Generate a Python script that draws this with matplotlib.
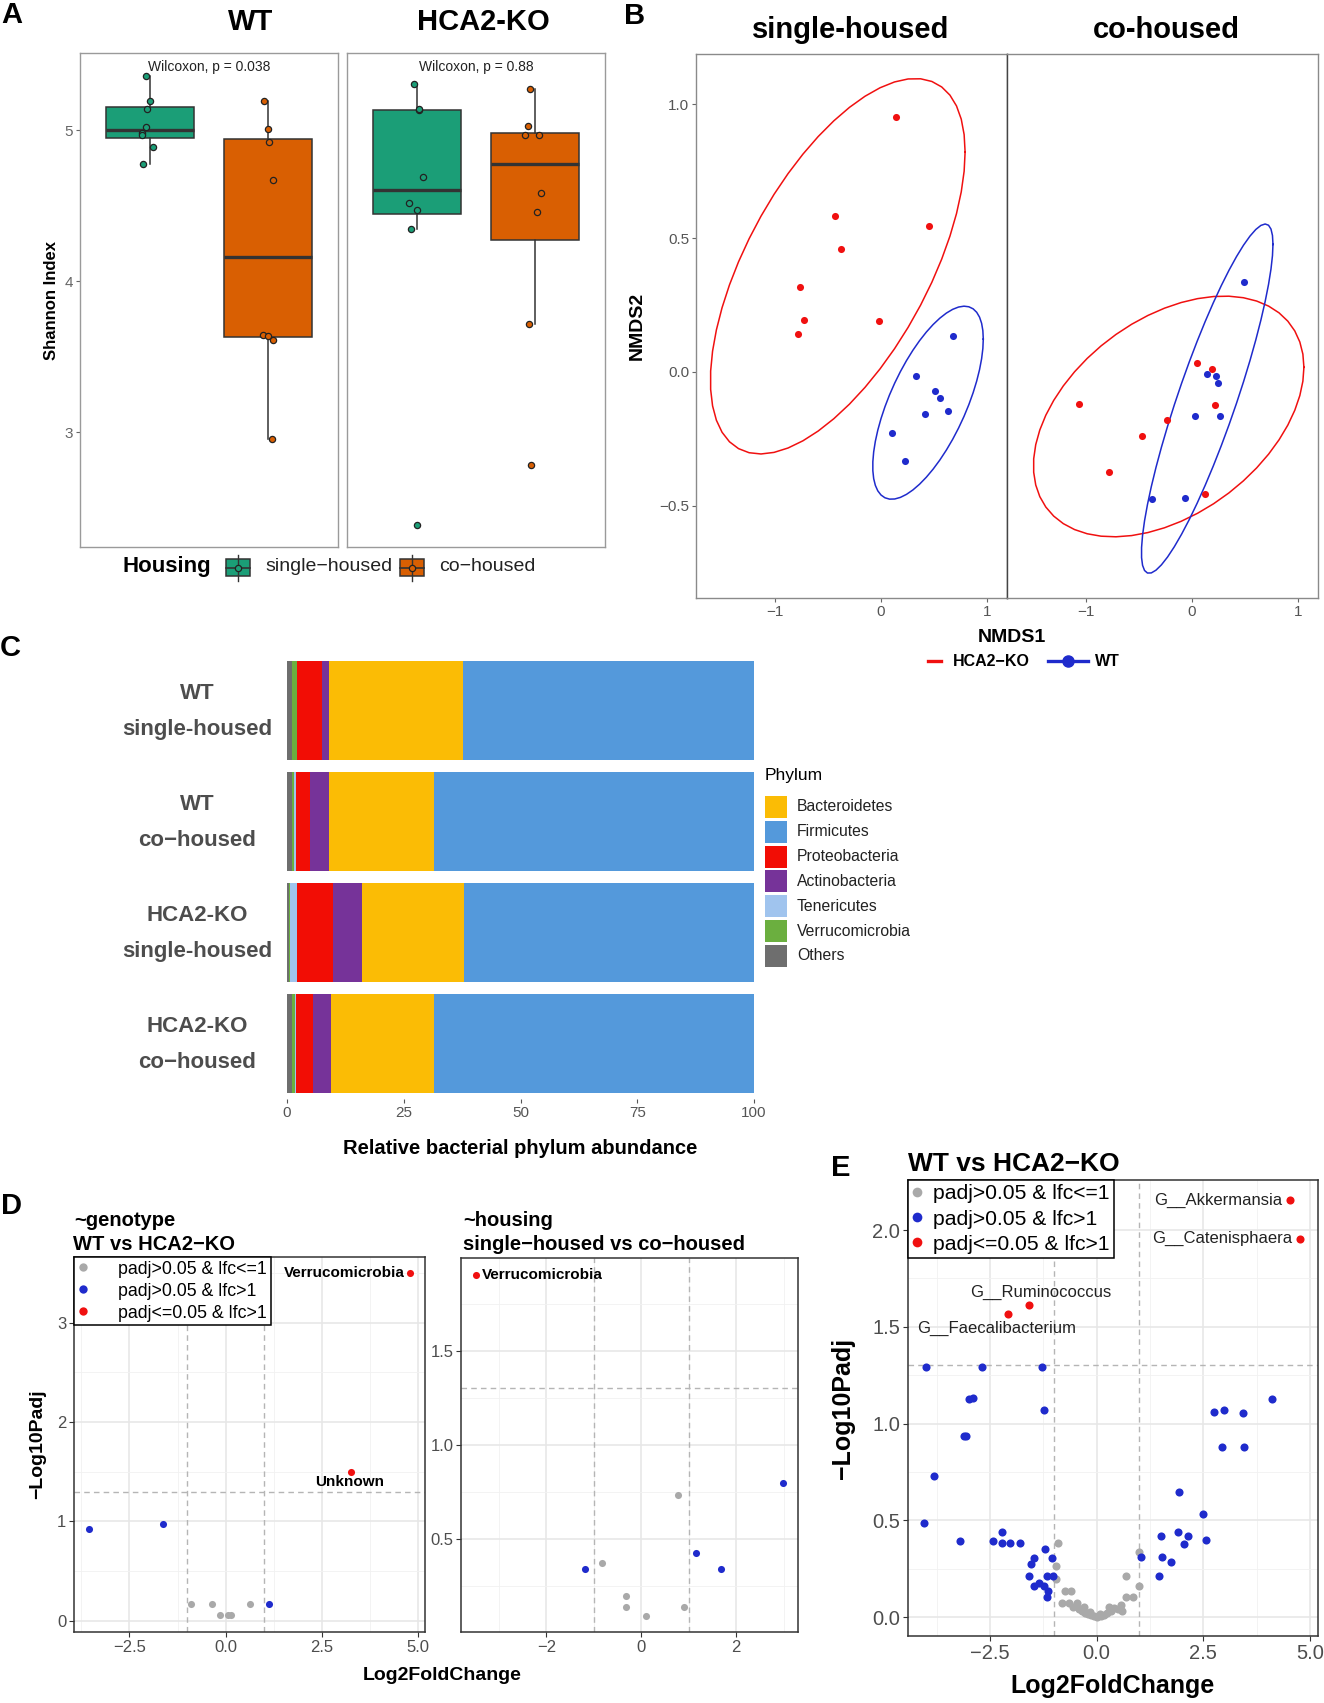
import numpy as np
import matplotlib
matplotlib.use("Agg")
import matplotlib.pyplot as plt
from matplotlib.patches import Rectangle
from matplotlib.lines import Line2D
from matplotlib.transforms import blended_transform_factory

plt.rcParams["font.family"] = ["Liberation Sans", "DejaVu Sans"]

# ---------------- A : Shannon index
shannon_wt_single = [5.36, 5.19, 5.14, 5.017, 4.98, 4.965, 4.887, 4.776]
shannon_wt_co = [5.19, 5.009, 4.922, 4.67, 3.645, 3.636, 3.61, 2.953]
shannon_ko_single = [5.302, 5.132, 5.14, 4.691, 4.519, 4.474, 4.347, 2.387]
shannon_ko_co = [5.274, 5.024, 4.965, 4.965, 4.583, 4.46, 3.719, 2.781]
# horizontal jitter
jit_wt_single = [-0.04, 0.0, -0.03, -0.04, -0.07, -0.075, 0.02, -0.06]
jit_wt_co = [-0.03, 0.0, 0.01, 0.05, -0.04, 0.0, 0.05, 0.04]
jit_ko_single = [-0.03, 0.01, 0.01, 0.05, -0.07, 0.0, -0.05, 0.0]
jit_ko_co = [-0.04, -0.06, -0.08, 0.04, 0.05, 0.02, -0.05, -0.03]
genotype_titles = ["WT", "HCA2-KO"]
wilcox_p = ["0.038", "0.88"]
housing_lbl = ["single−housed", "co−housed"]
housing_col = ["#1B9E77", "#D95F02"]

# ---------------- B : NMDS
ko_single_x = [0.143, -0.43, 0.452, -0.376, -0.76, -0.72, -0.783, -0.018]
ko_single_y = [0.953, 0.584, 0.545, 0.46, 0.316, 0.194, 0.143, 0.19]
wt_single_x = [0.68, 0.336, 0.515, 0.555, 0.416, 0.635, 0.107, 0.233]
wt_single_y = [0.135, -0.014, -0.07, -0.097, -0.156, -0.147, -0.229, -0.332]
ko_co_x = [-1.063, -0.781, -0.469, -0.228, 0.054, 0.196, 0.219, 0.129]
ko_co_y = [-0.118, -0.373, -0.24, -0.179, 0.032, 0.012, -0.123, -0.455]
wt_co_x = [0.491, 0.143, 0.232, 0.246, 0.027, 0.263, -0.371, -0.067]
wt_co_y = [0.337, -0.006, -0.017, -0.041, -0.165, -0.164, -0.475, -0.469]
nmds_titles = ["single-housed", "co-housed"]

# ---------------- C : phylum abundance (%)
groups = ["WT\nsingle-housed", "WT\nco−housed", "HCA2-KO\nsingle-housed", "HCA2-KO\nco−housed"]
ab_others = [1.1, 1.1, 0.5, 1.0]
ab_verruco = [1.0, 0.3, 0.1, 0.7]
ab_teneri = [0.1, 0.5, 1.6, 0.2]
ab_proteo = [5.4, 3.1, 7.6, 3.6]
ab_actino = [1.5, 4.1, 6.3, 4.0]
ab_bactero = [28.5, 22.4, 21.8, 22.0]
ab_firmi = [62.4, 68.5, 62.1, 68.5]
phyla_stack = ["Others", "Verrucomicrobia", "Tenericutes", "Proteobacteria",
               "Actinobacteria", "Bacteroidetes", "Firmicutes"]
phyla_legend = ["Bacteroidetes", "Firmicutes", "Proteobacteria", "Actinobacteria",
                "Tenericutes", "Verrucomicrobia", "Others"]
phyla_col = {"Bacteroidetes": "#FBBC05", "Firmicutes": "#5499DB", "Proteobacteria": "#F20D05",
             "Actinobacteria": "#763399", "Tenericutes": "#A0C4EE",
             "Verrucomicrobia": "#6BAF3F", "Others": "#6E6E6E"}

# ---------------- D : DESeq2 phylum level
dg_gray_lfc = [-0.90, -0.355, 0.624, -0.139, 0.052, 0.139]
dg_gray_p = [0.168, 0.168, 0.168, 0.056, 0.056, 0.056]
dg_blue_lfc = [-3.54, -1.63, 1.127]
dg_blue_p = [0.924, 0.976, 0.168]
dg_red_lfc = [4.79, 3.27]
dg_red_p = [3.5, 1.496]
dg_red_names = ["Verrucomicrobia", "Unknown"]

dh_gray_lfc = [-0.828, -0.316, -0.316, 0.105, 0.772, 0.891]
dh_gray_p = [0.374, 0.197, 0.138, 0.092, 0.734, 0.138]
dh_blue_lfc = [-1.186, 1.144, 1.67, 2.98]
dh_blue_p = [0.342, 0.426, 0.344, 0.799]
dh_red_lfc = [-3.49]
dh_red_p = [1.904]
dh_red_names = ["Verrucomicrobia"]

# ---------------- E : genus level
e_gray_lfc = [-0.90, -0.94, -0.94, -0.74, -0.59, -0.80, -0.64, -0.47, -0.55, -0.42, -0.35,
              -0.28, -0.20, -0.12, -0.05, 0.02, 0.10, 0.17, 0.25, 0.33, 0.42, 0.50, 0.57,
              0.60, 0.70, 0.85, 0.70, 0.99, 0.99, -0.30, 0.30, -0.15, 0.08]
e_gray_p = [0.383, 0.266, 0.195, 0.134, 0.134, 0.072, 0.072, 0.072, 0.050, 0.040, 0.030,
            0.020, 0.015, 0.010, 0.005, 0.000, 0.005, 0.012, 0.020, 0.030, 0.045, 0.040, 0.060,
            0.030, 0.104, 0.104, 0.210, 0.162, 0.336, 0.050, 0.050, 0.025, 0.015]
e_blue_lfc = [-4.006, -2.694, -1.288, -2.985, -2.906, -3.119, -3.07, -1.241, -3.81, -4.045,
              -3.197, -2.43, -2.21, -2.22, -2.02, -1.80,
              -1.22, -1.47, -1.05, -1.54, -1.58, -1.17, -1.01, -1.46, -1.35, -1.24, -1.15, -1.16,
              1.04, 1.46, 1.52, 1.53, 1.75, 1.91, 1.93, 2.04, 2.15, 2.50, 2.56, 2.75, 2.985,
              2.946, 3.44, 3.464, 4.116]
e_blue_p = [1.294, 1.294, 1.294, 1.129, 1.133, 0.935, 0.935, 1.069, 0.727, 0.487,
            0.395, 0.395, 0.44, 0.385, 0.385, 0.385,
            0.35, 0.305, 0.305, 0.275, 0.213, 0.213, 0.213, 0.158, 0.175, 0.158, 0.133, 0.105,
            0.31, 0.213, 0.421, 0.31, 0.285, 0.442, 0.648, 0.378, 0.421, 0.532, 0.397, 1.058,
            1.069, 0.878, 1.056, 0.878, 1.126]
e_red_lfc = [4.525, 4.776, -1.595, -2.066]
e_red_p = [2.155, 1.955, 1.611, 1.564]
e_red_names = ["G__Akkermansia", "G__Catenisphaera", "G__Ruminococcus", "G__Faecalibacterium"]

class_labels = ["padj>0.05 & lfc<=1", "padj>0.05 & lfc>1", "padj<=0.05 & lfc>1"]
c_gray, c_blue, c_red = "#A9A9A9", "#1F2BCC", "#F01010"

W, H = 1324, 1703
fig = plt.figure(figsize=(W / 100, H / 100), dpi=100)
ov = fig.add_axes([0, 0, 1, 1])
ov.set_xlim(0, W)
ov.set_ylim(H, 0)
ov.axis("off")


def px_axes(x0, y0, x1, y1):
    return fig.add_axes([x0 / W, 1 - y1 / H, (x1 - x0) / W, (y1 - y0) / H])


def px_text(x, y, s, **kw):
    fig.text(x / W, 1 - y / H, s, **kw)


for lab, (x, y) in zip("ABCDE", [(1, 15), (624, 16), (0, 648), (1, 1206), (831, 1168)]):
    px_text(x, y, lab, fontsize=21, fontweight="bold", va="center", ha="left")

# ================= A
a_axes = [px_axes(80, 53, 338, 547), px_axes(347, 53, 605, 547)]
a_data = [[shannon_wt_single, shannon_wt_co], [shannon_ko_single, shannon_ko_co]]
a_jit = [[jit_wt_single, jit_wt_co], [jit_ko_single, jit_ko_co]]
for k, ax in enumerate(a_axes):
    bp = ax.boxplot(a_data[k], positions=[1, 2], widths=0.75, patch_artist=True,
                    showfliers=False, showcaps=False,
                    medianprops=dict(color="#333333", lw=2.4),
                    boxprops=dict(edgecolor="#333333", lw=1.1),
                    whiskerprops=dict(color="#333333", lw=1.1))
    for patch, c in zip(bp["boxes"], housing_col):
        patch.set_facecolor(c)
    for j in range(2):
        ax.scatter(j + 1 + np.array(a_jit[k][j]), a_data[k][j], s=20, color=housing_col[j],
                   edgecolor="#222222", lw=0.9, zorder=3)
    ax.set_xlim(0.4, 2.6)
    ax.set_ylim(2.24, 5.51)
    ax.set_xticks([])
    ax.text(1.5, 5.42, "Wilcoxon, p = " + wilcox_p[k], ha="center", va="center",
            fontsize=10, color="#222222")
    for sp in ax.spines.values():
        sp.set_color("#9A9A9A")
        sp.set_linewidth(1.0)
    if k == 0:
        ax.set_yticks([3, 4, 5])
        ax.tick_params(axis="y", length=3, color="#666666", labelcolor="#666666",
                       labelsize=11, pad=2)
    else:
        ax.set_yticks([])
px_text(52, 300, "Shannon Index", fontsize=12, fontweight="bold", rotation=90,
        ha="center", va="center")
px_text(251, 22, genotype_titles[0], fontsize=21, fontweight="bold", ha="center", va="center")
px_text(483, 22, genotype_titles[1], fontsize=21, fontweight="bold", ha="center", va="center")

# legend A
px_text(123, 566, "Housing", fontsize=16, fontweight="bold", ha="left", va="center")
for kx, tx, c, lbl in zip([226, 400], [265, 439], housing_col, housing_lbl):
    ov.plot([kx + 12, kx + 12], [555, 581], color="#333333", lw=1)
    ov.add_patch(Rectangle((kx, 559), 24, 17, facecolor=c, edgecolor="#333333", lw=1.1))
    ov.plot([kx, kx + 24], [567.5, 567.5], color="#333333", lw=1.2)
    ov.plot([kx + 12], [567.5], marker="o", ms=4.5, mfc=c, mec="#222222", mew=0.9)
    px_text(tx, 566, lbl, fontsize=14, ha="left", va="center", color="#222222")


# ================= B
def cov_trob(pts, nu=5, maxit=25, tol=0.01):
    n, p = pts.shape
    loc = pts.mean(axis=0)
    w = np.ones(n)
    for _ in range(maxit):
        w0 = w
        X = pts - loc
        _, d, vt = np.linalg.svd(np.sqrt(w / w.sum())[:, None] * X, full_matrices=False)
        wX = X @ vt.T @ np.diag(1 / d)
        Q = (wX ** 2).sum(axis=1)
        w = (nu + p) / (nu + Q)
        loc = (w[:, None] * pts).sum(axis=0) / w.sum()
        if np.all(np.abs(w - w0) < tol):
            break
    cov = (np.sqrt(w)[:, None] * X).T @ (np.sqrt(w)[:, None] * X) / n
    return loc, cov


def stat_ellipse(xs, ys, level=0.95):
    pts = np.column_stack([xs, ys])
    loc, cov = cov_trob(pts)
    dfd = len(xs) - 1
    fq = dfd / 2 * ((1 - level) ** (-2 / dfd) - 1)  # qf(level, 2, dfd)
    radius = np.sqrt(2 * fq)
    t = np.linspace(0, 2 * np.pi, 52)
    circ = np.column_stack([np.cos(t), np.sin(t)])
    R = np.linalg.cholesky(cov).T
    e = loc + radius * circ @ R
    return e[:, 0], e[:, 1]


b_axes = [px_axes(696, 54, 1007, 598), px_axes(1007, 54, 1318, 598)]
b_sets = [((ko_single_x, ko_single_y), (wt_single_x, wt_single_y)),
          ((ko_co_x, ko_co_y), (wt_co_x, wt_co_y))]
for k, ax in enumerate(b_axes):
    for (xs, ys), c in zip(b_sets[k], [c_red, c_blue]):
        ex, ey = stat_ellipse(xs, ys)
        ax.plot(ex, ey, color=c, lw=1.1)
        ax.scatter(xs, ys, s=26, color=c, lw=0, zorder=3)
    ax.set_xlim(-1.74, 1.19)
    ax.set_ylim(-0.844, 1.187)
    ax.set_xticks([-1, 0, 1])
    ax.tick_params(length=3, color="#666666", labelcolor="#555555", labelsize=11, pad=2)
    for sp in ax.spines.values():
        sp.set_color("#8A8A8A")
        sp.set_linewidth(1.0)
    if k == 0:
        ax.set_yticks([-0.5, 0.0, 0.5, 1.0])
        ax.spines["right"].set_color("#444444")
    else:
        ax.set_yticks([])
        ax.spines["left"].set_color("#444444")
    px_text([851, 1166][k], 30, nmds_titles[k], fontsize=21, fontweight="bold",
            ha="center", va="center")
px_text(637, 326, "NMDS2", fontsize=14, fontweight="bold", rotation=90, ha="center", va="center")
px_text(1012, 637, "NMDS1", fontsize=14, fontweight="bold", ha="center", va="center")
ov.plot([928, 941], [661, 661], color=c_red, lw=2.4)
px_text(953, 661, "HCA2−KO", fontsize=11.5, fontweight="bold", ha="left", va="center")
ov.plot([1048, 1088], [661, 661], color=c_blue, lw=2.4)
ov.plot([1068], [661], marker="o", ms=8, color=c_blue)
px_text(1095, 661, "WT", fontsize=11.5, fontweight="bold", ha="left", va="center")

# ================= C
axc = px_axes(287, 655, 754, 1099)
ab = {"Others": ab_others, "Verrucomicrobia": ab_verruco, "Tenericutes": ab_teneri,
      "Proteobacteria": ab_proteo, "Actinobacteria": ab_actino,
      "Bacteroidetes": ab_bactero, "Firmicutes": ab_firmi}
ypos = np.arange(1, len(groups) + 1)
left = np.zeros(len(groups))
for ph in phyla_stack:
    vals = np.array(ab[ph])
    axc.barh(ypos, vals, left=left, height=0.9, color=phyla_col[ph], lw=0)
    left += vals
axc.set_xlim(0, 100)
axc.set_ylim(4.5, 0.5)
for sp in axc.spines.values():
    sp.set_visible(False)
axc.set_xticks([0, 25, 50, 75, 100])
axc.tick_params(axis="x", length=3, color="#555555", labelcolor="#555555", labelsize=11, pad=2)
axc.set_yticks([])
lbl_tr = blended_transform_factory(axc.transAxes, axc.transData)
for yp, g in zip(ypos, groups):
    axc.text(-0.193, yp + 0.01, g, transform=lbl_tr, fontsize=16, fontweight="bold",
             color="#4D4D4D", ha="center", va="center", multialignment="center",
             linespacing=1.9)
px_text(520, 1148, "Relative bacterial phylum abundance", fontsize=14.5, fontweight="bold",
        ha="center", va="center")
px_text(765, 776, "Phylum", fontsize=12.5, ha="left", va="center")
for i, ph in enumerate(phyla_legend):
    yc = 807 + i * 24.8
    ov.add_patch(Rectangle((765, yc - 11), 22, 22, facecolor=phyla_col[ph], lw=0))
    px_text(797, yc, ph, fontsize=11.3, ha="left", va="center", color="#222222")


# ================= D / E
def volcano(ax, gray, blue, red, size):
    for (xs, ys), c in zip([gray, blue, red], [c_gray, c_blue, c_red]):
        ax.scatter(xs, ys, s=size, color=c, lw=0, zorder=3)
    for xv in (-1, 1):
        ax.axvline(xv, color="#B5B5B5", ls=(0, (4, 3)), lw=1, zorder=2)
    ax.axhline(-np.log10(0.05), color="#B5B5B5", ls=(0, (4, 3)), lw=1, zorder=2)
    for sp in ax.spines.values():
        sp.set_color("#333333")
        sp.set_linewidth(1.1)
    ax.grid(which="major", color="#E6E6E6", lw=1.1)
    ax.grid(which="minor", color="#F1F1F1", lw=0.6)
    ax.set_axisbelow(True)
    ax.tick_params(which="minor", length=0)
    ax.tick_params(which="major", length=3.5, color="#333333", labelcolor="#4D4D4D", pad=2)


def class_handles(ms):
    return [Line2D([], [], marker="o", ls="", mfc=c, mec=c, mew=0, ms=ms)
            for c in (c_gray, c_blue, c_red)]


# D left: ~genotype
axd1 = px_axes(74, 1257, 425, 1632)
volcano(axd1, (dg_gray_lfc, dg_gray_p), (dg_blue_lfc, dg_blue_p), (dg_red_lfc, dg_red_p), 26)
axd1.set_xlim(-3.94, 5.18)
axd1.set_ylim(-0.112, 3.66)
axd1.set_xticks([-2.5, 0, 2.5, 5.0])
axd1.set_xticks([-3.75, -1.25, 1.25, 3.75], minor=True)
axd1.set_yticks([0, 1, 2, 3])
axd1.set_yticks([0.5, 1.5, 2.5, 3.5], minor=True)
axd1.tick_params(labelsize=12)
axd1.text(dg_red_lfc[0] - 0.13, dg_red_p[0], dg_red_names[0], fontsize=11, fontweight="bold",
          ha="right", va="center")
axd1.text(dg_red_lfc[1] - 0.06, dg_red_p[1] - 0.1, dg_red_names[1], fontsize=11,
          fontweight="bold", ha="center", va="center")
leg = axd1.legend(class_handles(6), class_labels, loc="upper left", bbox_to_anchor=(0, 1),
                  borderaxespad=0, fontsize=12.8, frameon=True, fancybox=False,
                  edgecolor="black", framealpha=1, handlelength=0.6, handletextpad=1.7,
                  borderpad=0.2, labelspacing=0.28)
leg.get_frame().set_linewidth(1.1)
px_text(74, 1221, "~genotype", fontsize=14.5, fontweight="bold", ha="left", va="center")
px_text(73, 1245, "WT vs HCA2−KO", fontsize=14.5, fontweight="bold", ha="left", va="center")
px_text(38, 1444, "−Log10Padj", fontsize=14, fontweight="bold", rotation=90,
        ha="center", va="center")

# D right: ~housing
axd2 = px_axes(461, 1258, 798, 1632)
volcano(axd2, (dh_gray_lfc, dh_gray_p), (dh_blue_lfc, dh_blue_p), (dh_red_lfc, dh_red_p), 26)
axd2.set_xlim(-3.80, 3.30)
axd2.set_ylim(0.007, 1.993)
axd2.set_xticks([-2, 0, 2])
axd2.set_xticks([-3, -1, 1, 3], minor=True)
axd2.set_yticks([0.5, 1.0, 1.5])
axd2.set_yticks([0.25, 0.75, 1.25, 1.75], minor=True)
axd2.tick_params(labelsize=12)
axd2.text(dh_red_lfc[0] + 0.13, dh_red_p[0], dh_red_names[0], fontsize=11, fontweight="bold",
          ha="left", va="center")
px_text(463, 1221, "~housing", fontsize=14.5, fontweight="bold", ha="left", va="center")
px_text(463, 1244, "single−housed vs co−housed", fontsize=14.5, fontweight="bold",
        ha="left", va="center")
px_text(442, 1676, "Log2FoldChange", fontsize=14, fontweight="bold", ha="center", va="center")

# E
axe = px_axes(908, 1180, 1318, 1636)
volcano(axe, (e_gray_lfc, e_gray_p), (e_blue_lfc, e_blue_p), (e_red_lfc, e_red_p), 34)
axe.set_xlim(-4.42, 5.19)
axe.set_ylim(-0.098, 2.259)
axe.set_xticks([-2.5, 0, 2.5, 5.0])
axe.set_xticks([-3.75, -1.25, 1.25, 3.75], minor=True)
axe.set_yticks([0, 0.5, 1.0, 1.5, 2.0])
axe.set_yticks([0.25, 0.75, 1.25, 1.75], minor=True)
axe.tick_params(labelsize=14.5)
e_lbl = [(-0.18, 0.0, "right"), (-0.18, 0.0, "right"), (0.28, 0.066, "center"),
         (-0.28, -0.072, "center")]
for xv, yv, name, (dx, dy, ha) in zip(e_red_lfc, e_red_p, e_red_names, e_lbl):
    axe.text(xv + dx, yv + dy, name, fontsize=12, ha=ha, va="center", color="#222222")
leg = axe.legend(class_handles(7), class_labels, loc="upper left", bbox_to_anchor=(0, 1),
                 borderaxespad=0, fontsize=15.2, frameon=True, fancybox=False,
                 edgecolor="black", framealpha=1, handlelength=0.5, handletextpad=0.5,
                 borderpad=0.2, labelspacing=0.3)
leg.get_frame().set_linewidth(1.1)
px_text(908, 1164, "WT vs HCA2−KO", fontsize=19, fontweight="bold", ha="left", va="center")
px_text(843, 1408, "−Log10Padj", fontsize=18, fontweight="bold", rotation=90,
        ha="center", va="center")
px_text(1113, 1686, "Log2FoldChange", fontsize=18, fontweight="bold", ha="center", va="center")

fig.savefig("out.png", dpi=100, facecolor="white")
